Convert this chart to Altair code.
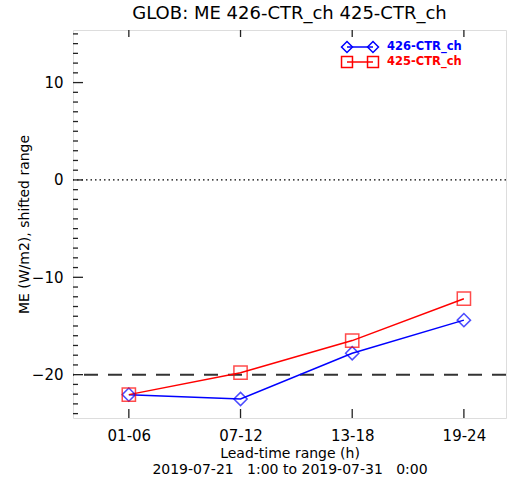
import altair as alt
import pandas as pd

categories = ["01-06", "07-12", "13-18", "19-24"]
positions = [1, 2, 3, 4]
series_names = ["426-CTR_ch", "425-CTR_ch"]
values_426 = [-22.05, -22.5, -17.8, -14.4]
values_425 = [-22.05, -19.8, -16.5, -12.2]
colors = ["#0000ff", "#ff0000"]
shapes = ["diamond", "square"]
y_major = [-20, -10, 0, 10]
y_minor = [v for v in range(-24, 16) if v % 10 != 0]
title_text = "GLOB: ME 426-CTR_ch 425-CTR_ch"
x_title = ["Lead-time range (h)", "2019-07-21\u00a0\u00a0\u00a01:00 to 2019-07-31\u00a0\u00a0\u00a00:00"]
y_title = "ME (W/m2), shifted range"

FONT = "DejaVu Sans"
W, H = 433, 388
XDOM = [0.5, 4.377]
YDOM = [-24.45, 15.4]

rows = []
for name, vals in zip(series_names, [values_426, values_425]):
    for p, c, v in zip(positions, categories, vals):
        rows.append({"series": name, "pos": p, "cat": c, "value": v})
df = pd.DataFrame(rows)

label_expr = "[" + ",".join(["''"] + ["'%s'" % c for c in categories]) + "][datum.value]"

xs = alt.Scale(domain=XDOM, nice=False, zero=False)
ys = alt.Scale(domain=YDOM, nice=False, zero=False)

x_axis = alt.Axis(values=positions, labelExpr=label_expr, ticks=False, domain=False,
                  grid=False, labelFontSize=15, labelPadding=10, labelColor="black",
                  labelFont=FONT, title=x_title, titleFont=FONT, titleFontSize=14,
                  titleFontWeight="normal", titleColor="black", titlePadding=3,
                  titleLineHeight=16)
y_axis = alt.Axis(values=y_major, ticks=False, domain=False, grid=False,
                  labelFontSize=15, labelPadding=10, labelColor="black", labelFont=FONT,
                  title=y_title, titleFont=FONT, titleFontSize=14,
                  titleFontWeight="normal", titleColor="black", titlePadding=0)


def X(field):
    return alt.X(field + ":Q", scale=xs, axis=x_axis, title=x_title)


def Y(field):
    return alt.Y(field + ":Q", scale=ys, axis=y_axis, title=y_title)


color_scale = alt.Scale(domain=series_names, range=colors)
shape_scale = alt.Scale(domain=series_names, range=shapes)

lines = alt.Chart(df).mark_line(strokeWidth=1.5).encode(
    x=X("pos"), y=Y("value"),
    color=alt.Color("series:N", scale=color_scale, legend=None),
    detail="series:N",
)
points = alt.Chart(df).mark_point(size=175, strokeWidth=1.5, filled=False).encode(
    x=X("pos"), y=Y("value"),
    color=alt.Color("series:N", scale=color_scale, legend=None),
    shape=alt.Shape("series:N", scale=shape_scale, legend=None),
)

ref_df = pd.DataFrame({"value": [0, -20], "kind": ["dot", "dash"]})
dotted = alt.Chart(ref_df[ref_df.kind == "dot"]).mark_rule(
    color="black", strokeWidth=1.2, strokeDash=[1.5, 3]).encode(y=Y("value"))
dashed = alt.Chart(ref_df[ref_df.kind == "dash"]).mark_rule(
    color="#333333", strokeWidth=2, strokeDash=[14, 10]).encode(y=Y("value"))

ymaj_df = pd.DataFrame({"value": y_major})
ymin_df = pd.DataFrame({"value": y_minor})
xt_df = pd.DataFrame({"pos": positions})

ymaj_ticks = alt.Chart(ymaj_df).mark_rule(color="#222", strokeWidth=1.3).encode(
    y=Y("value"), x=alt.value(0), x2=alt.value(10))
ymin_ticks = alt.Chart(ymin_df).mark_rule(color="#222", strokeWidth=1.3).encode(
    y=Y("value"), x=alt.value(0), x2=alt.value(5))
xb_ticks = alt.Chart(xt_df).mark_rule(color="#222", strokeWidth=1.3).encode(
    x=X("pos"), y=alt.value(H), y2=alt.value(H - 9))
xt_ticks = alt.Chart(xt_df).mark_rule(color="#222", strokeWidth=1.3).encode(
    x=X("pos"), y=alt.value(0), y2=alt.value(7))

# legend (manual, line-symbol-line style)
leg_df = pd.DataFrame({"series": series_names, "row": [0, 1]})
LX1, LX2, LTX = 274, 300, 314
LY = [17, 32]
legend_layers = []
for i, name in enumerate(series_names):
    sub = leg_df[leg_df.series == name]
    legend_layers.append(alt.Chart(sub).mark_rule(color=colors[i], strokeWidth=1.5).encode(
        x=alt.value(LX1), x2=alt.value(LX2), y=alt.value(LY[i])))
    for lx in (LX1, LX2):
        legend_layers.append(alt.Chart(sub).mark_point(
            shape=shapes[i], size=120, strokeWidth=1.5, filled=False, color=colors[i],
            opacity=1).encode(x=alt.value(lx), y=alt.value(LY[i])))
    legend_layers.append(alt.Chart(sub).mark_text(
        align="left", baseline="middle", fontSize=11.5, fontWeight="bold", font=FONT,
        color=colors[i]).encode(x=alt.value(LTX), y=alt.value(LY[i]), text="series:N"))

chart = alt.layer(
    dotted, dashed, ymaj_ticks, ymin_ticks, xb_ticks, xt_ticks, lines, points, *legend_layers
).properties(
    width=W, height=H,
    title=alt.TitleParams(title_text, font=FONT, fontSize=18, fontWeight="normal",
                          color="black", offset=6, anchor="middle"),
    autosize=alt.AutoSizeParams(type="none"),
    padding={"left": 73, "top": 30, "right": 2, "bottom": 59},
).configure_view(stroke="#222", strokeWidth=1.5).configure(background="white")

chart.save("out.html", embed_options={"renderer": "svg", "actions": False})
